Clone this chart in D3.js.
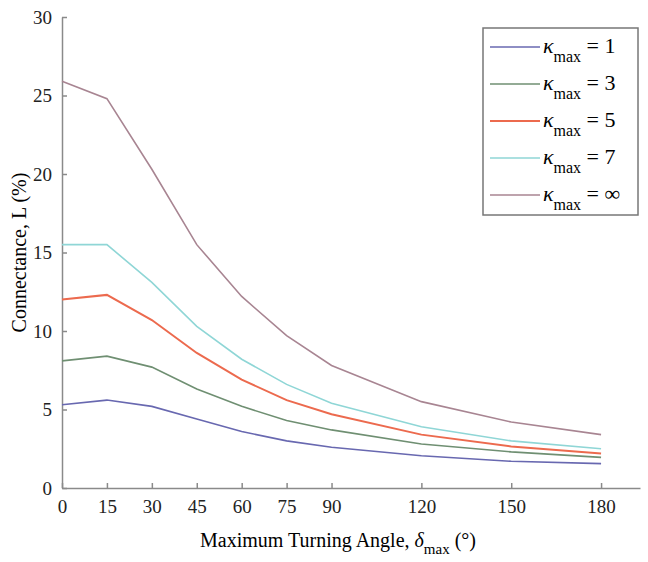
<!DOCTYPE html>
<html>
<head>
<meta charset="utf-8">
<script src="https://cdn.jsdelivr.net/npm/d3@7"></script>
<style>
body { margin: 0; background: #fff; }
svg, svg text { font-family: "Liberation Serif", "DejaVu Serif", serif; }
.axis path, .axis line { stroke: #8a8a8a; stroke-width: 1.5; }
.axis text { font-family: "Liberation Serif", serif; font-size: 19px; fill: #222; }
</style>
</head>
<body>
<script>
var width = 648, height = 562;
var margin = {left: 62, top: 17, right: 8, bottom: 74};

var angles = [0, 15, 30, 45, 60, 75, 90, 120, 150, 180];
var xTicks = [0, 15, 30, 45, 60, 75, 90, 120, 150, 180];
var yTicks = [0, 5, 10, 15, 20, 25, 30];

var kappaLabels = ['1', '3', '5', '7', '\u221e'];
var kappaColors = ['#6868b0', '#6f8f72', '#ec6a4e', '#8fd6d6', '#a88592'];

var k1 = [5.3, 5.6, 5.2, 4.4, 3.6, 3.0, 2.6, 2.05, 1.7, 1.55];
var k3 = [8.1, 8.4, 7.7, 6.3, 5.2, 4.3, 3.7, 2.8, 2.3, 1.95];
var k5 = [12.0, 12.3, 10.7, 8.6, 6.9, 5.6, 4.7, 3.4, 2.65, 2.2];
var k7 = [15.5, 15.5, 13.1, 10.3, 8.2, 6.6, 5.4, 3.9, 3.0, 2.5];
var kInf = [25.9, 24.8, 20.3, 15.5, 12.2, 9.7, 7.8, 5.5, 4.2, 3.4];
var series = [k1, k3, k5, k7, kInf];

var svg = d3.select('body').append('svg')
    .attr('width', width)
    .attr('height', height);

var x = d3.scaleLinear()
    .domain([0, 193])
    .range([margin.left, width - margin.right]);

var y = d3.scaleLinear()
    .domain([0, 30])
    .range([height - margin.bottom, margin.top]);

svg.append('g')
    .attr('class', 'axis')
    .attr('transform', 'translate(0,' + (height - margin.bottom) + ')')
    .call(d3.axisBottom(x).tickValues(xTicks).tickSizeInner(-5).tickSizeOuter(0).tickPadding(12))
    .selectAll('text').attr('dy', '0.71em');

svg.append('g')
    .attr('class', 'axis')
    .attr('transform', 'translate(' + margin.left + ',0)')
    .call(d3.axisLeft(y).tickValues(yTicks).tickSizeInner(-5).tickSizeOuter(0).tickPadding(10));

var line = d3.line()
    .x((d, i) => x(angles[i]))
    .y(d => y(d));

svg.append('g').selectAll('path')
    .data(series).enter()
    .append('path')
    .attr('d', line)
    .attr('fill', 'none')
    .attr('stroke', (d, i) => kappaColors[i])
    .attr('stroke-width', (d, i) => i === 2 ? 2 : 1.6);

// axis titles
svg.append('text')
    .attr('transform', 'translate(26,' + y(15) + ') rotate(-90)')
    .attr('text-anchor', 'middle')
    .style('font-size', '20px')
    .text('Connectance, L (%)');

var xt = svg.append('text')
    .attr('x', 338)
    .attr('y', 547)
    .attr('text-anchor', 'middle')
    .style('font-size', '20px');
xt.append('tspan').text('Maximum Turning Angle,  ');
xt.append('tspan').style('font-style', 'italic').text('\u03b4');
xt.append('tspan').attr('dy', 7).style('font-size', '15px').text('max');
xt.append('tspan').attr('dy', -7).text(' (\u00b0)');

// legend
var legend = svg.append('g');
legend.append('rect')
    .attr('x', 483).attr('y', 28)
    .attr('width', 155).attr('height', 187)
    .attr('fill', '#fff')
    .attr('stroke', '#777')
    .attr('stroke-width', 1.5);

var items = legend.selectAll('.item')
    .data(kappaLabels).enter()
    .append('g')
    .attr('class', 'item')
    .attr('transform', (d, i) => 'translate(0,' + (47 + i * 37) + ')');

items.append('line')
    .attr('x1', 490).attr('x2', 540)
    .attr('y1', 0).attr('y2', 0)
    .attr('stroke', (d, i) => kappaColors[i])
    .attr('stroke-width', (d, i) => i === 2 ? 2 : 1.6);

var lt = items.append('text')
    .attr('x', 543)
    .attr('y', 6)
    .style('font-size', '22px');
lt.append('tspan').style('font-style', 'italic').text('\u03ba');
lt.append('tspan').attr('dy', 9).style('font-size', '16px').text('max');
lt.append('tspan').attr('dy', -9).text(d => ' = ' + d);
</script>
</body>
</html>
